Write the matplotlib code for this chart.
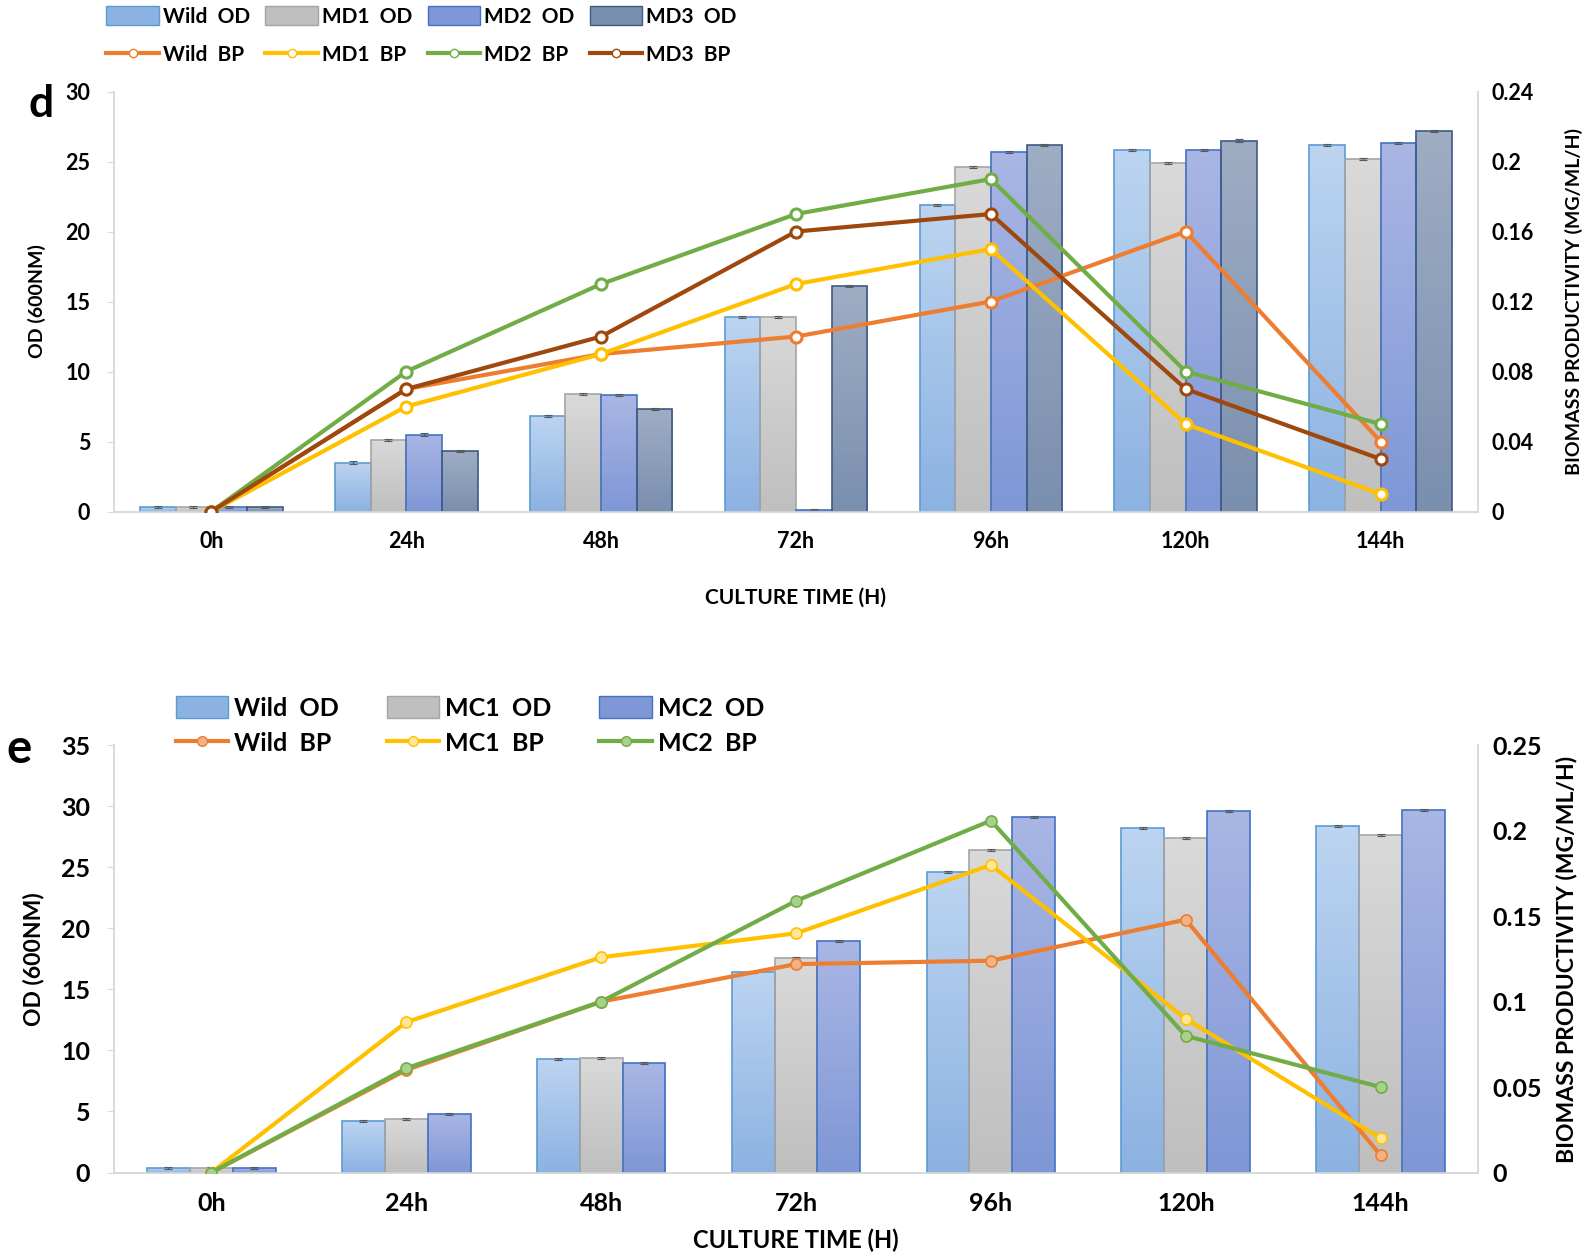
import matplotlib
matplotlib.use("Agg")
import matplotlib.pyplot as plt
import numpy as np
from matplotlib.colors import LinearSegmentedColormap
from matplotlib.lines import Line2D
from matplotlib.patches import Patch

plt.rcParams["font.family"] = ["Lato", "DejaVu Sans"]
plt.rcParams["font.weight"] = "bold"

hours = ["0h", "24h", "48h", "72h", "96h", "120h", "144h"]

# panel d: OD (left axis)
wild_od_d = [0.3, 3.5, 6.8, 13.9, 21.9, 25.8, 26.2]
md1_od = [0.3, 5.1, 8.4, 13.9, 24.6, 24.9, 25.2]
md2_od = [0.3, 5.5, 8.3, 0.1, 25.7, 25.8, 26.3]
md3_od = [0.3, 4.3, 7.3, 16.1, 26.2, 26.5, 27.2]
# panel d: biomass productivity (right axis)
wild_bp_d = [0.0, 0.07, 0.09, 0.10, 0.12, 0.16, 0.04]
md1_bp = [0.0, 0.06, 0.09, 0.13, 0.15, 0.05, 0.01]
md2_bp = [0.0, 0.08, 0.13, 0.17, 0.19, 0.08, 0.05]
md3_bp = [0.0, 0.07, 0.10, 0.16, 0.17, 0.07, 0.03]

# panel e
wild_od_e = [0.4, 4.2, 9.3, 16.4, 24.6, 28.2, 28.4]
mc1_od = [0.4, 4.4, 9.4, 17.6, 26.4, 27.4, 27.7]
mc2_od = [0.4, 4.8, 9.0, 19.0, 29.1, 29.6, 29.7]
wild_bp_e = [0.0, 0.060, 0.100, 0.122, 0.124, 0.148, 0.010]
mc1_bp = [0.0, 0.088, 0.126, 0.140, 0.180, 0.090, 0.020]
mc2_bp = [0.0, 0.061, 0.100, 0.159, 0.206, 0.080, 0.050]

# bar styles: (top colour, bottom colour, edge)
BAR_STYLES = {
    "wild": ("#bcd4f0", "#8cb2e2", "#5b9bd5"),
    "grey": ("#d9d9d9", "#bfbfbf", "#a5a5a5"),
    "blue": ("#a9b6e4", "#7f97d6", "#4472c4"),
    "slate": ("#9fadc4", "#7a8fae", "#3e5a85"),
}
ORANGE, YELLOW, GREEN, BROWN = "#ed7d31", "#ffc000", "#70ad47", "#9e480e"
GRID = "#d9d9d9"


def gradient_bars(ax, x, heights, width, style):
    top, bot, edge = BAR_STYLES[style]
    cmap = LinearSegmentedColormap.from_list(style, [bot, top])
    bars = ax.bar(x, heights, width, facecolor="none", edgecolor=edge,
                  linewidth=1.2, zorder=3)
    grad = np.linspace(0, 1, 64).reshape(-1, 1)
    for b in bars:
        x0, w, h = b.get_x(), b.get_width(), b.get_height()
        im = ax.imshow(grad[::-1], extent=[x0, x0 + w, 0, h], origin="upper",
                       cmap=cmap, aspect="auto", zorder=2)
        im.set_clip_path(b)
    ax.errorbar(x, heights, yerr=0.08, fmt="none", ecolor="#595959",
                elinewidth=0.8, capsize=3, capthick=0.8, zorder=4)


def style_axes(ax, ax2, fs_tick):
    ax.spines["top"].set_visible(False)
    ax2.spines["top"].set_visible(False)
    for a in (ax, ax2):
        for s in ["left", "right", "bottom"]:
            a.spines[s].set_color(GRID)
            a.spines[s].set_linewidth(1.2)
    ax.tick_params(axis="y", length=5, color=GRID, labelsize=fs_tick)
    ax2.tick_params(axis="y", length=0, labelsize=fs_tick, pad=10)
    ax.tick_params(axis="x", length=0, labelsize=fs_tick, pad=14)


fig = plt.figure(figsize=(15.95, 12.59), dpi=100)
x = np.arange(len(hours))

# ---------- panel d ----------
axd = fig.add_axes([0.0714, 0.5937, 0.8553, 0.3336])
axd2 = axd.twinx()
w = 0.183
for i, (vals, st) in enumerate([(wild_od_d, "wild"), (md1_od, "grey"),
                                (md2_od, "blue"), (md3_od, "slate")]):
    gradient_bars(axd, x + (i - 1.5) * w, vals, w, st)
for vals, c in [(wild_bp_d, ORANGE), (md1_bp, YELLOW), (md2_bp, GREEN), (md3_bp, BROWN)]:
    axd2.plot(x, vals, color=c, lw=3, marker="o", ms=8, mew=2.2,
              mfc="white", mec=c, zorder=5)
axd.set_xlim(-0.5, 6.5)
axd.set_ylim(0, 30)
axd.set_yticks(range(0, 31, 5))
axd2.set_ylim(0, 0.24)
axd2.set_yticks([0, 0.04, 0.08, 0.12, 0.16, 0.2, 0.24])
axd2.set_yticklabels(["0", "0.04", "0.08", "0.12", "0.16", "0.2", "0.24"])
axd.set_xticks(x)
axd.set_xticklabels(hours)
style_axes(axd, axd2, 15.5)
axd.tick_params(axis="y", pad=12)
axd.set_xlabel("CULTURE TIME (H)", fontsize=15, fontweight="bold", labelpad=26)
axd.set_ylabel("OD (600NM)", fontsize=14, fontweight="bold", labelpad=14)
axd2.set_ylabel("BIOMASS PRODUCTIVITY (MG/ML/H)", fontsize=14, fontweight="bold", labelpad=22)
fig.text(0.018, 0.917, "d", fontsize=32, fontweight="bold", va="center")

hd = []
for (name, st), (bname, c) in zip(
        [("Wild  OD", "wild"), ("MD1  OD", "grey"), ("MD2  OD", "blue"), ("MD3  OD", "slate")],
        [("Wild  BP", ORANGE), ("MD1  BP", YELLOW), ("MD2  BP", GREEN), ("MD3  BP", BROWN)]):
    top, bot, edge = BAR_STYLES[st]
    hd.append(Patch(facecolor=bot, edgecolor=edge, label=name))
    hd.append(Line2D([], [], color=c, lw=3, marker="o", ms=6, mfc="white", mec=c, label=bname))
fig.legend(handles=hd, ncol=4, loc="upper left", bbox_to_anchor=(0.055, 1.01),
           frameon=False, fontsize=15, handlelength=2.5, handleheight=1.0,
           columnspacing=0.75, labelspacing=0.85, handletextpad=0.2)

# ---------- panel e ----------
axe = fig.add_axes([0.0714, 0.0687, 0.8553, 0.3392])
axe2 = axe.twinx()
w = 0.22
for i, (vals, st) in enumerate([(wild_od_e, "wild"), (mc1_od, "grey"), (mc2_od, "blue")]):
    gradient_bars(axe, x + (i - 1) * w, vals, w, st)
fills = {ORANGE: "#f4b183", YELLOW: "#ffe699", GREEN: "#a9d18e"}
for vals, c in [(wild_bp_e, ORANGE), (mc1_bp, YELLOW), (mc2_bp, GREEN)]:
    axe2.plot(x, vals, color=c, lw=3, marker="o", ms=8, mew=1.2,
              mfc=fills[c], mec=c, zorder=5)
axe.set_xlim(-0.5, 6.5)
axe.set_ylim(0, 35)
axe.set_yticks(range(0, 36, 5))
axe2.set_ylim(0, 0.25)
axe2.set_yticks([0, 0.05, 0.1, 0.15, 0.2, 0.25])
axe2.set_yticklabels(["0", "0.05", "0.1", "0.15", "0.2", "0.25"])
axe.set_xticks(x)
axe.set_xticklabels(hours)
style_axes(axe, axe2, 18)
axe.tick_params(axis="y", pad=12)
axe.set_xlabel("CULTURE TIME (H)", fontsize=17, fontweight="bold", labelpad=10)
axe.set_ylabel("OD (600NM)", fontsize=16.5, fontweight="bold", labelpad=12)
axe2.set_ylabel("BIOMASS PRODUCTIVITY (MG/ML/H)", fontsize=16.5, fontweight="bold", labelpad=10)
fig.text(0.004, 0.405, "e", fontsize=34, fontweight="bold", va="center")

he = []
for (name, st), (bname, c) in zip(
        [("Wild  OD", "wild"), ("MC1  OD", "grey"), ("MC2  OD", "blue")],
        [("Wild  BP", ORANGE), ("MC1  BP", YELLOW), ("MC2  BP", GREEN)]):
    top, bot, edge = BAR_STYLES[st]
    he.append(Patch(facecolor=bot, edgecolor=edge, label=name))
    he.append(Line2D([], [], color=c, lw=3, marker="o", ms=7, mfc=fills[c], mec=c, label=bname))
fig.legend(handles=he, ncol=3, loc="upper left", bbox_to_anchor=(0.096, 0.465),
           frameon=False, fontsize=18, handlelength=2.1, handleheight=1.0,
           columnspacing=1.9, labelspacing=0.45, handletextpad=0.25)

fig.savefig("out.png", dpi=100, facecolor="white")
